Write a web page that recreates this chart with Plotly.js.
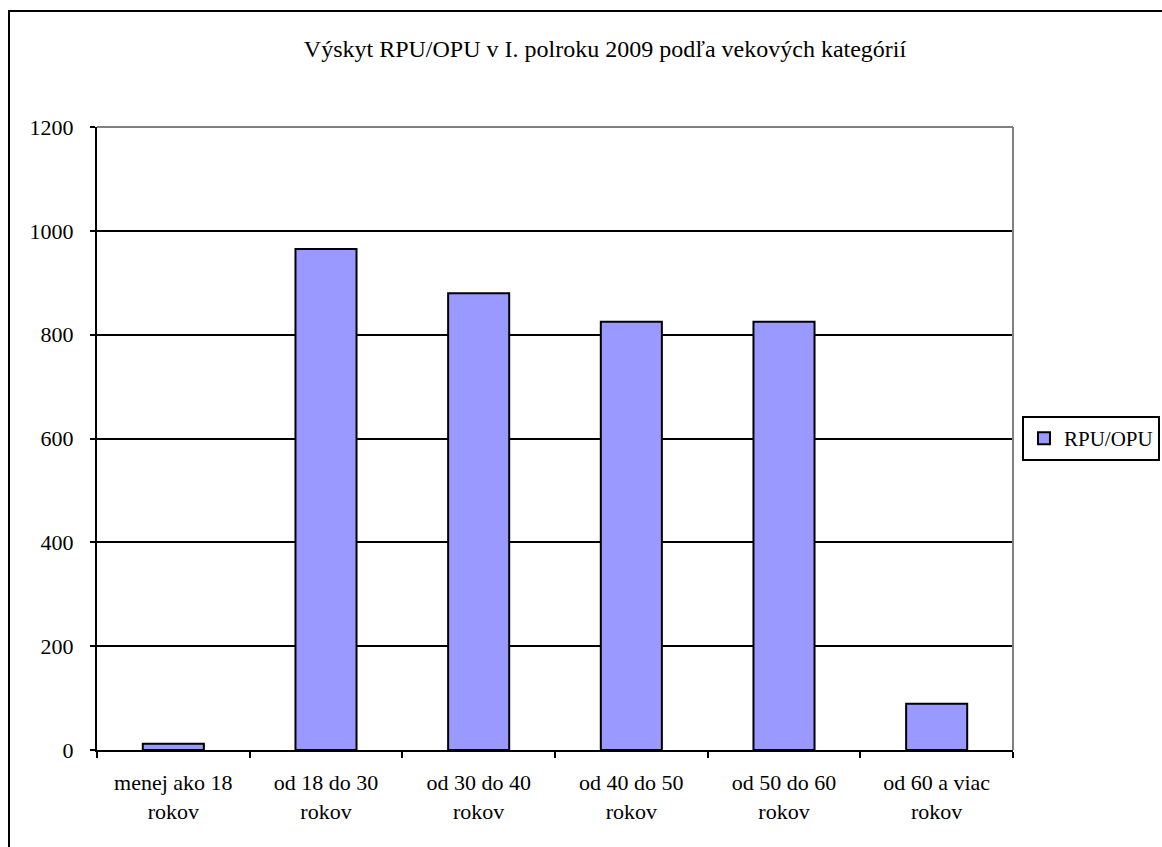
<!DOCTYPE html>
<html>
<head>
<meta charset="utf-8">
<script src="https://cdn.plot.ly/plotly-3.0.1.min.js"></script>
<style>
  html, body { margin: 0; padding: 0; background: #fff; }
  #wrap { position: relative; width: 1162px; height: 847px; overflow: hidden; }
  #frame { position: absolute; left: 8px; top: 10px; width: 1200px; height: 900px;
           border-left: 2px solid #000; border-top: 2px solid #000; pointer-events: none; z-index: 5; }
  #chart { position: absolute; left: 0; top: 0; width: 1162px; height: 847px; }
</style>
</head>
<body>
<div id="wrap">
  <div id="chart"></div>
  <div id="frame"></div>
</div>
<script>
const categories = [
  "menej ako 18<br>rokov",
  "od 18 do 30<br>rokov",
  "od 30 do 40<br>rokov",
  "od 40 do 50<br>rokov",
  "od 50 do 60<br>rokov",
  "od 60 a viac<br>rokov"
];
const values = [12, 965, 880, 825, 825, 89];
const seriesName = "RPU/OPU";
const titleText = "Výskyt RPU/OPU v I. polroku 2009 podľa vekových kategórií";

const font = "'Liberation Serif', 'Times New Roman', serif";
const fs = 22;

const trace = {
  type: "bar",
  x: categories,
  y: values,
  name: seriesName,
  marker: { color: "#9999ff", line: { color: "#000000", width: 2 } },
  showlegend: true
};

const layout = {
  width: 1162,
  height: 847,
  paper_bgcolor: "#ffffff",
  plot_bgcolor: "#ffffff",
  margin: { l: 97, r: 149, t: 127, b: 97, autoexpand: false },
  font: { family: font, size: fs, color: "#000" },
  title: {
    text: titleText,
    font: { family: font, size: 24, color: "#000" },
    x: 605 / 1162, xanchor: "center", xref: "container",
    y: 1 - 49 / 847, yanchor: "middle", yref: "container"
  },
  bargap: 0.6,
  showlegend: true,
  legend: {
    x: 1.0098, xanchor: "left", y: 0.5, yanchor: "middle",
    bordercolor: "#000", borderwidth: 2, bgcolor: "#fff",
    font: { family: font, size: 21, color: "#000" },
    itemwidth: 30
  },
  xaxis: {
    type: "category",
    showline: true, linecolor: "#000", linewidth: 2,
    ticks: "outside", ticklen: 6, tickcolor: "#000", tickwidth: 2,
    tickson: "boundaries",
    showgrid: false, zeroline: false,
    tickfont: { family: font, size: fs, color: "#000" },
    ticklabelstandoff: 12
  },
  yaxis: {
    range: [0, 1200], dtick: 200,
    showline: true, linecolor: "#000", linewidth: 2,
    ticks: "outside", ticklen: 5, tickcolor: "#000", tickwidth: 2,
    showgrid: true, gridcolor: "#000", gridwidth: 2,
    zeroline: false,
    tickfont: { family: font, size: fs, color: "#000" },
    ticklabelstandoff: 12
  },
  shapes: [
    { type: "line", xref: "paper", yref: "paper", x0: 0, x1: 1, y0: 1, y1: 1,
      line: { color: "#808080", width: 2 } },
    { type: "line", xref: "paper", yref: "paper", x0: 1, x1: 1, y0: 0, y1: 1,
      line: { color: "#808080", width: 2 } }
  ]
};

Plotly.newPlot("chart", [trace], layout, { displayModeBar: false, staticPlot: true });
</script>
</body>
</html>
